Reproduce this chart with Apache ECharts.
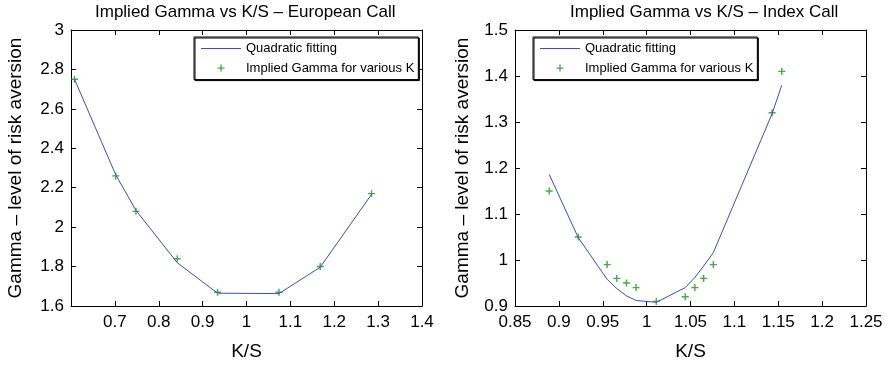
<!DOCTYPE html>
<html>
<head>
<meta charset="utf-8">
<script src="https://cdn.jsdelivr.net/npm/echarts@6/dist/echarts.min.js"></script>
<style>html,body{margin:0;padding:0;background:#fff}#c{width:894px;height:366px}</style>
</head>
<body>
<div id="c"></div>
<script>
// ---- data ----
const leftTitle = 'Implied Gamma vs K/S \u2013 European Call';
const rightTitle = 'Implied Gamma vs K/S \u2013 Index Call';
const xName = 'K/S';
const yName = 'Gamma \u2013 level of risk aversion';
const fitName = 'Quadratic fitting';
const ptsName = 'Implied Gamma for various K';

const leftKS = [0.608, 0.702, 0.748, 0.842, 0.934, 1.074, 1.168, 1.285];
const leftGamma = [2.75, 2.26, 2.08, 1.84, 1.67, 1.67, 1.80, 2.17];
const leftFit = [2.75, 2.265, 2.085, 1.82, 1.665, 1.663, 1.797, 2.166];

const rightKS = [0.889, 0.922, 0.955, 0.966, 0.977, 0.988, 1.011, 1.044, 1.055, 1.065, 1.076, 1.143, 1.154];
const rightGamma = [1.15, 1.05, 0.99, 0.96, 0.95, 0.94, 0.91, 0.92, 0.94, 0.96, 0.99, 1.32, 1.41];
const rightFit = [1.186, 1.049, 0.958, 0.938, 0.922, 0.912, 0.908, 0.940, 0.962, 0.987, 1.016, 1.318, 1.380];

const leftXRange = [0.6, 1.4, 0.1];
const leftYRange = [1.6, 3.0, 0.2];
const rightXRange = [0.85, 1.25, 0.05];
const rightYRange = [0.9, 1.5, 0.1];

// ---- styling ----
const FONT = 'Liberation Sans, Arial, Helvetica, sans-serif';
const BLUE = '#3a4ec6';
const GREEN = '#1a941a';
const plusSymbol = 'path://M2.8,0H4.2V2.8H7V4.2H4.2V7H2.8V4.2H0V2.8H2.8Z';
const plusLegendIcon = 'path://M0,0M40,10M19.3,1.5H20.7V4.3H23.5V5.7H20.7V8.5H19.3V5.7H16.5V4.3H19.3Z';
const lineLegendIcon = 'path://M0,0M40,10M0,4.5H40V5.5H0Z';

function pairs(xs, ys) { return xs.map((x, i) => [x, ys[i]]); }

function xAxes(grid, r, withLabels, pos, showMin) {
  return {
    type: 'value', gridIndex: grid, position: pos,
    min: r[0], max: r[1], interval: r[2],
    name: withLabels ? xName : '', nameLocation: 'middle', nameGap: 36,
    nameTextStyle: { fontFamily: FONT, fontSize: 19, color: '#000' },
    axisLine: { show: true, onZero: false, lineStyle: { color: '#000', width: 1 } },
    axisTick: { show: true, inside: true, length: 5, lineStyle: { color: '#000' } },
    axisLabel: { show: withLabels, showMinLabel: showMin, margin: 8, fontFamily: FONT, fontSize: 17, color: '#000' },
    splitLine: { show: false }
  };
}
function yAxes(grid, r, withLabels, pos, gap) {
  return {
    type: 'value', gridIndex: grid, position: pos,
    min: r[0], max: r[1], interval: r[2],
    name: withLabels ? yName : '', nameLocation: 'middle', nameGap: gap,
    nameTextStyle: { fontFamily: FONT, fontSize: 19, color: '#000' },
    axisLine: { show: true, onZero: false, lineStyle: { color: '#000', width: 1 } },
    axisTick: { show: true, inside: true, length: 5, lineStyle: { color: '#000' } },
    axisLabel: { show: withLabels, margin: 7, fontFamily: FONT, fontSize: 17, color: '#000' },
    splitLine: { show: false }
  };
}
function legendAt(left) {
  return {
    left: left, top: 37, orient: 'vertical',
    padding: [5, 4, 5, 7], itemWidth: 40, itemHeight: 10, itemGap: 6.6,
    borderColor: '#000', borderWidth: 1, backgroundColor: '#fff',
    shadowColor: '#000', shadowBlur: 0, shadowOffsetX: 1, shadowOffsetY: 1,
    selectedMode: false,
    textStyle: { fontFamily: FONT, fontSize: 13, color: '#000' },
    data: [{ name: fitName, icon: lineLegendIcon, itemStyle: { color: BLUE } },
           { name: ptsName, icon: plusLegendIcon }]
  };
}

const chart = echarts.init(document.getElementById('c'));
chart.setOption({
  animation: false,
  backgroundColor: '#fff',
  title: [
    { text: leftTitle, left: 95, top: 4, padding: 0, textStyle: { fontFamily: FONT, fontSize: 17, fontWeight: 'normal', color: '#000' } },
    { text: rightTitle, left: 570, top: 4, padding: 0, textStyle: { fontFamily: FONT, fontSize: 17, fontWeight: 'normal', color: '#000' } }
  ],
  grid: [
    { left: 71, top: 30, width: 351, height: 277 },
    { left: 515, top: 30, width: 351, height: 277 }
  ],
  legend: [legendAt(194), legendAt(533)],
  xAxis: [
    xAxes(0, leftXRange, true, 'bottom', false),
    xAxes(0, leftXRange, false, 'top', false),
    xAxes(1, rightXRange, true, 'bottom', true),
    xAxes(1, rightXRange, false, 'top', true)
  ],
  yAxis: [
    yAxes(0, leftYRange, true, 'left', 46),
    yAxes(0, leftYRange, false, 'right', 0),
    yAxes(1, rightYRange, true, 'left', 43),
    yAxes(1, rightYRange, false, 'right', 0)
  ],
  series: [
    { name: fitName, type: 'line', xAxisIndex: 0, yAxisIndex: 0, data: pairs(leftKS, leftFit),
      symbol: 'none', lineStyle: { color: BLUE, width: 1 }, itemStyle: { color: BLUE } },
    { name: ptsName, type: 'scatter', xAxisIndex: 0, yAxisIndex: 0, data: pairs(leftKS, leftGamma),
      symbol: plusSymbol, symbolSize: 7, itemStyle: { color: GREEN } },
    { name: fitName, type: 'line', xAxisIndex: 2, yAxisIndex: 2, data: pairs(rightKS, rightFit),
      symbol: 'none', lineStyle: { color: BLUE, width: 1 }, itemStyle: { color: BLUE } },
    { name: ptsName, type: 'scatter', xAxisIndex: 2, yAxisIndex: 2, data: pairs(rightKS, rightGamma),
      symbol: plusSymbol, symbolSize: 7, itemStyle: { color: GREEN } }
  ]
});
</script>
</body>
</html>
